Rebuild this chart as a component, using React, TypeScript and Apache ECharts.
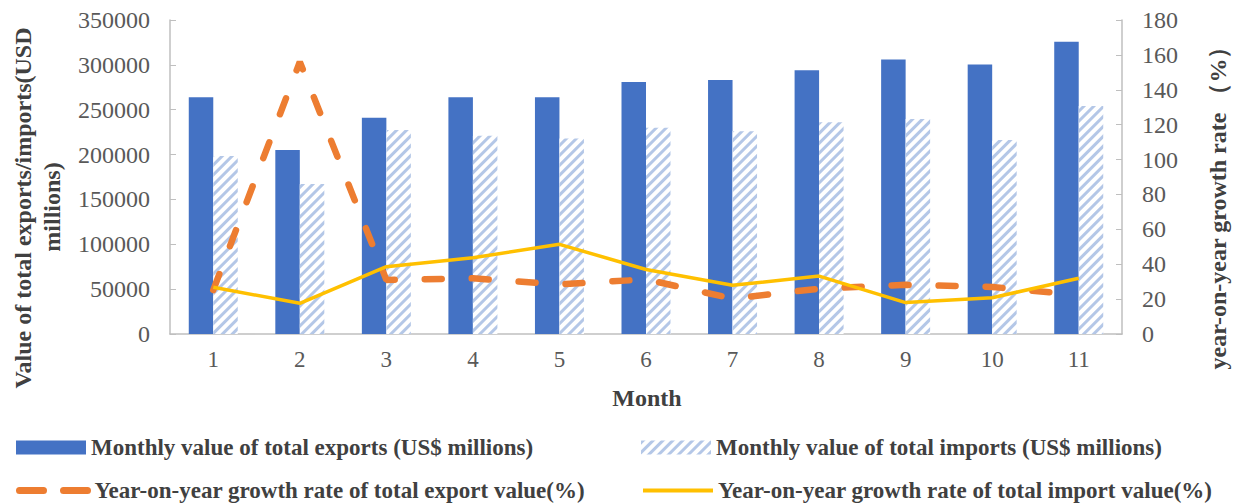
import React, { useEffect, useRef } from "react";
import * as echarts from "echarts";

const months = ["1", "2", "3", "4", "5", "6", "7", "8", "9", "10", "11"];
const exportsValue = [264000, 205000, 241000, 264000, 264000, 281000, 283000, 294000, 306000, 300500, 325800];
const importsValue = [198400, 167200, 227400, 221000, 218000, 230000, 226000, 236000, 239600, 216200, 254100];
const exportGrowth = [25.2, 156, 31, 31.9, 28.4, 31.3, 20.3, 26, 28.2, 27, 22.3];
const importGrowth = [26.8, 17.6, 38.6, 43.7, 51.4, 37, 27.9, 33.2, 18, 20.8, 32];

const leftTicks = { min: 0, max: 350000, interval: 50000 };
const rightTicks = { min: 0, max: 180, interval: 20 };

const names = {
  ex: "Monthly value of total exports (US$ millions)",
  im: "Monthly value of total imports (US$ millions)",
  exg: "Year-on-year growth rate of total export value(%)",
  img: "Year-on-year growth rate of total import value(%)",
};

const SERIF = '"Liberation Serif", "Times New Roman", serif';
const LABEL = "#595959";
const AXIS = "#BFBFBF";
const TITLE = "#404040";

export default function App() {
  const ref = useRef<HTMLDivElement>(null);
  useEffect(() => {
    if (!ref.current) return;
    const chart = echarts.init(ref.current, undefined, { renderer: "svg" });
    const hatch = {
      symbol: "rect",
      symbolSize: 1,
      color: "#B4C7E7",
      dashArrayX: [1, 0],
      dashArrayY: [3, 4],
      rotation: -Math.PI / 4,
    };
    const legendText = { fontFamily: SERIF, fontWeight: "bold", fontSize: 23, color: TITLE };
    const mkLegend = (item: any, left: number, top: number, icon?: string) => ({
      data: [item],
      left,
      top,
      itemWidth: 70,
      itemHeight: 14,
      itemGap: 0,
      padding: 0,
      icon,
      textStyle: legendText,
      selectedMode: false,
    });
    const nameText = (text: string, x: number, y: number, size: number, rot: boolean) => ({
      type: "text",
      x,
      y,
      rotation: rot ? Math.PI / 2 : 0,
      style: {
        text,
        font: `bold ${size}px ${SERIF}`,
        fill: TITLE,
        textAlign: "center",
        textVerticalAlign: "middle",
        align: "center",
        verticalAlign: "middle",
      },
    });
    chart.setOption({
      animation: false,
      backgroundColor: "#ffffff",
      grid: { left: 170, right: 122, top: 20, bottom: 169 },
      legend: [
        mkLegend(names.ex, 16, 436, "rect"),
        mkLegend(names.im, 641, 436, "rect"),
        mkLegend(
          {
            name: names.exg,
            itemStyle: { opacity: 0 },
            lineStyle: { type: [24, 20], width: 7, cap: "round", color: "#ED7D31" },
          },
          16,
          479
        ),
        mkLegend(
          { name: names.img, itemStyle: { opacity: 0 }, lineStyle: { width: 4, color: "#FFC000" } },
          641,
          479
        ),
      ],
      xAxis: {
        type: "category",
        data: months,
        boundaryGap: true,
        axisLine: { lineStyle: { color: AXIS, width: 1.5 } },
        axisTick: { inside: true, length: 6, lineStyle: { color: AXIS } },
        axisLabel: { fontFamily: SERIF, fontSize: 23, color: LABEL, margin: 14 },
      },
      yAxis: [
        {
          type: "value",
          ...leftTicks,
          splitLine: { show: false },
          axisLine: { show: true, lineStyle: { color: AXIS, width: 1.5 } },
          axisTick: { show: true, inside: true, length: 6, lineStyle: { color: AXIS } },
          axisLabel: {
            fontFamily: SERIF,
            fontSize: 24,
            color: LABEL,
            margin: 20,
            formatter: (v: number) => String(v),
          },
        },
        {
          type: "value",
          ...rightTicks,
          position: "right",
          splitLine: { show: false },
          axisLine: { show: true, lineStyle: { color: AXIS, width: 1.5 } },
          axisTick: { show: true, inside: true, length: 6, lineStyle: { color: AXIS } },
          axisLabel: {
            fontFamily: SERIF,
            fontSize: 24,
            color: LABEL,
            margin: 20,
            formatter: (v: number) => String(v),
          },
        },
      ],
      graphic: [
        nameText("Value of total exports/imports(USD", 23, 208, 24, true),
        nameText("millions)", 52, 207, 24, true),
        nameText("year-on-year growth rate （%）", 1218, 202, 24, true),
        nameText("Month", 647, 398, 24, false),
      ],
      series: [
        {
          name: names.ex,
          type: "bar",
          data: exportsValue,
          barWidth: 24.5,
          barGap: "0%",
          itemStyle: { color: "#4472C4" },
        },
        {
          name: names.im,
          type: "bar",
          data: importsValue,
          barWidth: 24.5,
          barGap: "0%",
          itemStyle: { color: "#ffffff", decal: hatch },
        },
        {
          name: names.exg,
          type: "line",
          yAxisIndex: 1,
          data: exportGrowth,
          symbol: "none",
          lineStyle: { color: "#ED7D31", width: 6.5, type: [17, 30], cap: "round" },
          itemStyle: { color: "#ED7D31" },
        },
        {
          name: names.img,
          type: "line",
          yAxisIndex: 1,
          data: importGrowth,
          symbol: "none",
          lineStyle: { color: "#FFC000", width: 3.5 },
          itemStyle: { color: "#FFC000" },
        },
      ],
    });
    return () => chart.dispose();
  }, []);
  return (
    <div
      ref={ref}
      style={{ position: "absolute", left: 0, top: 0, width: 1244, height: 503 }}
    />
  );
}
